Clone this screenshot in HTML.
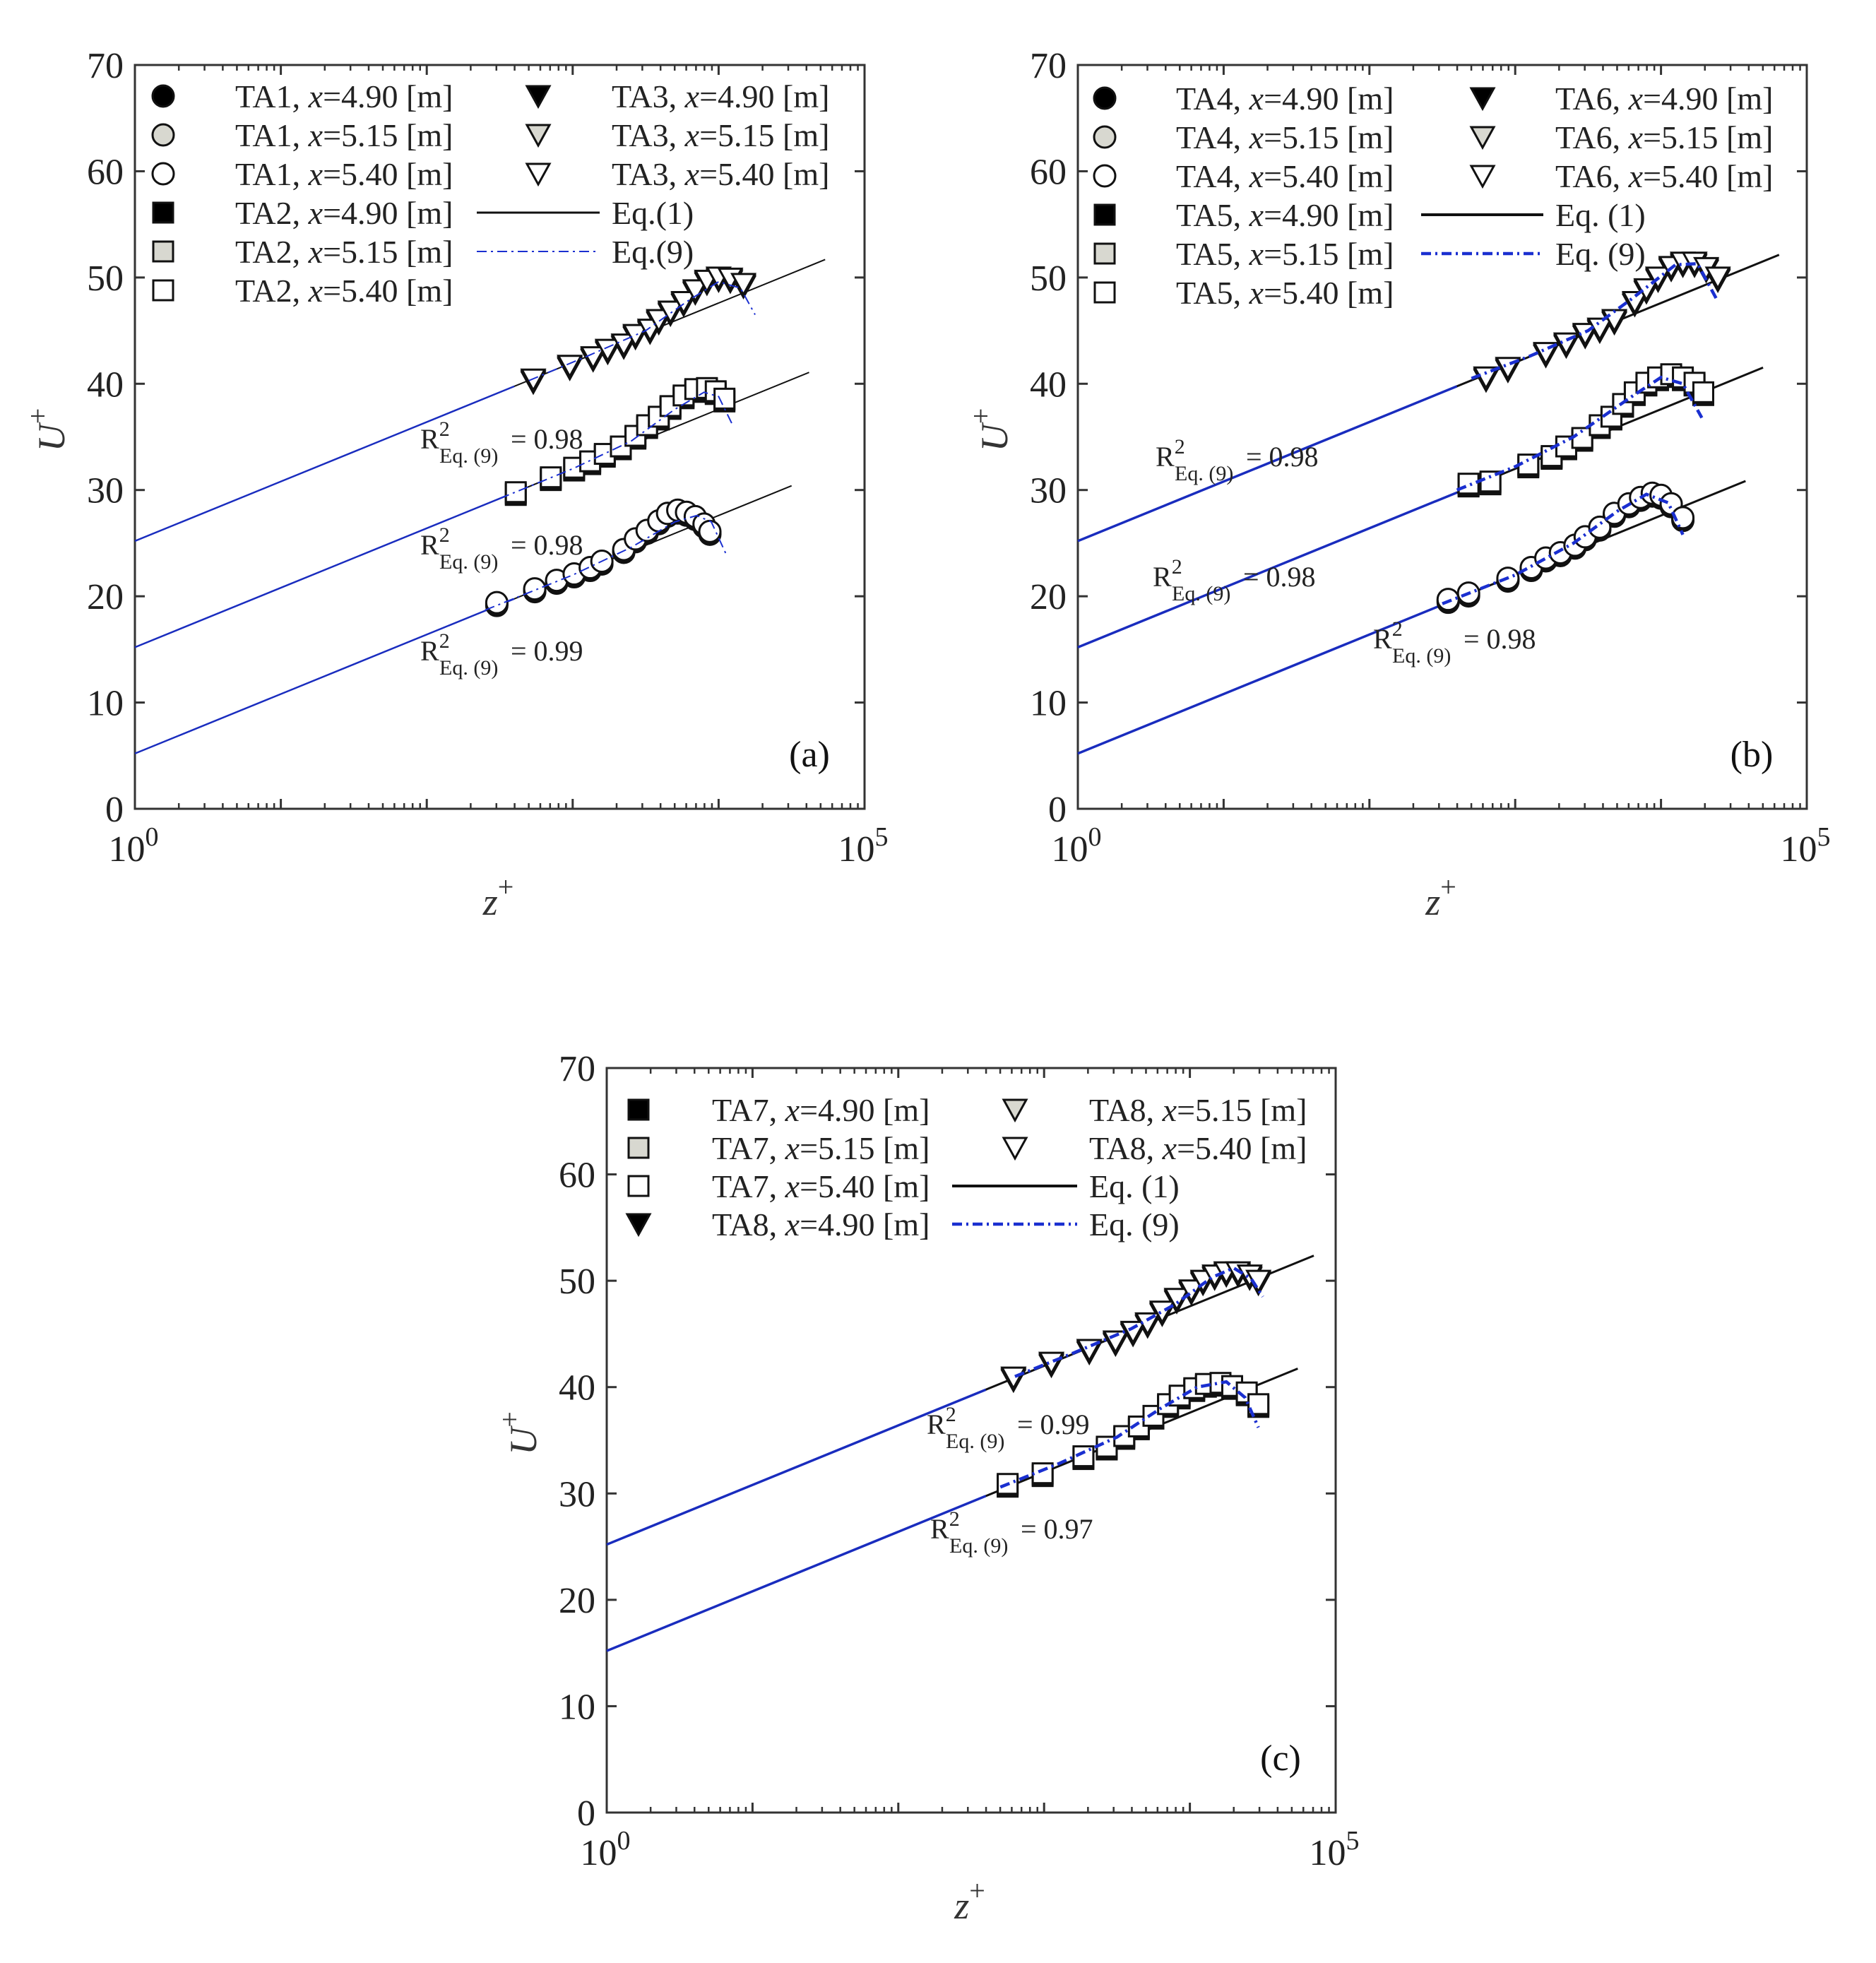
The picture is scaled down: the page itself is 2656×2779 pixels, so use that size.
<!DOCTYPE html>
<html><head><meta charset="utf-8"><style>
html,body{margin:0;padding:0;background:#fff;}
svg{display:block;font-family:"Liberation Serif","Times New Roman",serif;}
</style></head><body>
<svg id="fig" width="2656" height="2779" viewBox="0 0 2656 2779" xmlns="http://www.w3.org/2000/svg"></svg>
<script>
// ---- data (log10 z+, U+) ----
const yTicks = [0,10,20,30,40,50,60,70];
const xDecades = [0,1,2,3,4,5];
const lawIntercepts = [5.2,15.2,25.2];
const lawEnds = [4.50,4.62,4.73];
const lawSlope = 5.6;
// panel a
const aCircLog = [2.48,2.74,2.89,3.01,3.12,3.20,3.35,3.43,3.51,3.59,3.65,3.72,3.78,3.84,3.90,3.94];
const aCircU   = [19.4,20.7,21.5,22.1,22.7,23.3,24.4,25.4,26.2,27.1,27.8,28.1,27.9,27.5,26.8,26.1];
const aSqLog = [2.61,2.85,3.01,3.12,3.22,3.33,3.43,3.51,3.59,3.67,3.76,3.84,3.92,3.98,4.04];
const aSqU   = [29.8,31.2,32.1,32.7,33.4,34.1,35.1,36.1,36.9,37.9,38.9,39.5,39.6,39.3,38.6];
const aTriLog = [2.73,2.98,3.14,3.24,3.35,3.43,3.53,3.59,3.67,3.76,3.84,3.92,4.00,4.08,4.17];
const aTriU   = [40.4,41.7,42.5,43.2,43.7,44.6,45.1,46.0,46.8,47.7,48.8,49.7,50.0,49.9,49.4];
const aEq9CLog = [2.4,3.0,3.4,3.7,3.85,3.95,4.05]; const aEq9CU = [18.7,22.0,24.6,27.0,27.6,27.0,24.0];
const aEq9SLog = [2.5,3.0,3.4,3.7,3.9,4.0,4.1];   const aEq9SU = [29.2,32.0,34.6,37.6,39.2,38.8,36.0];
const aEq9TLog = [2.7,3.1,3.5,3.8,4.0,4.15,4.25]; const aEq9TU = [40.3,42.6,45.0,47.9,49.6,49.0,46.5];
// panel b
const bCircLog = [2.54,2.68,2.95,3.11,3.21,3.31,3.41,3.48,3.58,3.68,3.78,3.86,3.94,4.00,4.07,4.15];
const bCircU   = [19.7,20.3,21.7,22.7,23.6,24.1,24.8,25.6,26.5,27.8,28.7,29.3,29.7,29.5,28.7,27.4];
const bSqLog = [2.68,2.83,3.09,3.25,3.35,3.46,3.58,3.66,3.74,3.82,3.90,3.98,4.07,4.15,4.23,4.29];
const bSqU   = [30.6,30.8,32.4,33.2,34.1,34.9,36.1,36.9,38.1,39.2,40.1,40.6,40.9,40.6,40.1,39.2];
const bTriLog = [2.80,2.95,3.21,3.35,3.48,3.58,3.68,3.82,3.90,3.98,4.07,4.15,4.23,4.31,4.39];
const bTriU   = [40.6,41.5,42.9,43.8,44.7,45.2,46.0,47.7,48.9,50.0,51.0,51.4,51.4,50.9,50.0];
const bEq9CLog = [2.5,3.0,3.4,3.7,3.9,4.05,4.15]; const bEq9CU = [19.3,22.0,25.0,28.0,29.6,28.8,25.8];
const bEq9SLog = [2.6,3.0,3.4,3.8,4.0,4.15,4.28]; const bEq9SU = [30.0,32.2,35.0,38.8,40.6,40.0,36.8];
const bEq9TLog = [2.7,3.1,3.5,3.8,4.1,4.25,4.38]; const bEq9TU = [40.5,42.6,45.0,48.0,51.2,51.3,48.0];
// panel c
const cTriLog = [2.79,3.05,3.31,3.49,3.61,3.71,3.81,3.91,4.01,4.09,4.17,4.25,4.33,4.41,4.47];
const cTriU   = [40.9,42.3,43.5,44.3,45.2,46.0,47.1,48.3,49.1,50.0,50.5,50.8,50.8,50.5,50.0];
const cSqLog = [2.75,2.99,3.27,3.43,3.55,3.65,3.75,3.85,3.93,4.03,4.11,4.21,4.29,4.39,4.47];
const cSqU   = [30.9,31.9,33.5,34.4,35.4,36.3,37.3,38.4,39.2,39.9,40.3,40.4,40.1,39.5,38.4];
const cEq9SLog = [2.7,3.1,3.5,3.8,4.05,4.25,4.38,4.47]; const cEq9SU = [30.6,32.8,35.3,38.0,40.0,40.5,39.0,36.2];
const cEq9TLog = [2.8,3.2,3.6,3.9,4.15,4.3,4.42,4.5];  const cEq9TU = [41.0,43.2,45.5,47.8,50.3,51.2,50.2,48.5];

const NS='http://www.w3.org/2000/svg';
const svg=document.getElementById('fig');
function mk(tag,attrs,parent){const e=document.createElementNS(NS,tag);for(const k in attrs)e.setAttribute(k,attrs[k]);(parent||svg).appendChild(e);return e;}

function panel(cfg){
  const g=mk('g',{});
  
  
  const L=cfg.x0,R=cfg.x1,T=cfg.y0,B=cfg.y1;
  const sx=v=>L+(v-0)/5*(R-L);
  const sy=u=>B-u/70*(B-T);
  yTicks.forEach(t=>{
    const y=sy(t);
    mk('line',{x1:L,x2:L+14,y1:y,y2:y,stroke:'#333','stroke-width':3},g);
    mk('line',{x1:R,x2:R-14,y1:y,y2:y,stroke:'#333','stroke-width':3},g);
    const tx=mk('text',{x:L-16,y:y+18,'font-size':52,'text-anchor':'end',fill:'#222'},g);
    tx.textContent=t;
    
    
  });
  xDecades.forEach(d=>{
    const x=sx(d);
    mk('line',{x1:x,x2:x,y1:B,y2:B-14,stroke:'#333','stroke-width':3},g);
    mk('line',{x1:x,x2:x,y1:T,y2:T+14,stroke:'#333','stroke-width':3},g);
    if(d<5){for(let m=2;m<=9;m++){const xm=sx(d+Math.log10(m));
      mk('line',{x1:xm,x2:xm,y1:B,y2:B-8,stroke:'#333','stroke-width':2.5},g);
      mk('line',{x1:xm,x2:xm,y1:T,y2:T+8,stroke:'#333','stroke-width':2.5},g);}}
    if(d===0||d===5){
      const tx=mk('text',{x:x-2,y:B+74,'font-size':52,'text-anchor':'middle',fill:'#222'},g);
      tx.innerHTML='10<tspan dy="-22" font-size="38">'+d+'</tspan>';
      
      
    }
  });
  mk('rect',{x:L,y:T,width:R-L,height:B-T,fill:'none',stroke:'#333','stroke-width':3},g);
  const yt=mk('text',{x:0,y:0,'font-size':54,'font-style':'italic','text-anchor':'middle',fill:'#333',transform:`translate(${L-100},${(T+B)/2-10}) rotate(-90)`},g);
  yt.innerHTML='U<tspan dy="-24" font-size="40" font-style="normal">+</tspan>';
  
  
  const xt=mk('text',{x:(L+R)/2-2,y:B+150,'font-size':54,'font-style':'italic','text-anchor':'middle',fill:'#333'},g);
  xt.innerHTML='z<tspan dy="-26" font-size="40" font-style="normal">+</tspan>';
  
  
  const pl=mk('text',{x:R-78,y:B-60,'font-size':52,'text-anchor':'middle',fill:'#111'},g);
  pl.textContent='('+cfg.id+')';
  
  
  cfg.laws.forEach(i=>{
    const b=lawIntercepts[i],e=lawEnds[i]+cfg.endShift;
    const ln=mk('line',{x1:sx(0),y1:sy(b),x2:sx(e),y2:sy(b+lawSlope*e),stroke:'#111','stroke-width':cfg.lw},g);
    
    
    const bl=mk('line',{x1:sx(0),y1:sy(b),x2:sx(2.6),y2:sy(b+lawSlope*2.6),stroke:'#1a2fd0','stroke-width':cfg.lw+0.5,opacity:0.9},g);
    
    
  });
  function marker(type,fill,cx,cy,par){
    let e;
    if(type==='c') e=mk('circle',{cx:cx,cy:cy,r:15,fill:fill,stroke:'#111','stroke-width':3},par);
    else if(type==='s') e=mk('rect',{x:cx-14,y:cy-14,width:28,height:28,fill:fill,stroke:'#111','stroke-width':3},par);
    else e=mk('polygon',{points:`${cx-16},${cy-14} ${cx+16},${cy-14} ${cx},${cy+15}`,fill:fill,stroke:'#111','stroke-width':3},par);
    return e;
  }
  cfg.series.forEach(s=>{
    [['#000',4],['#d8d8d0',2],['#fff',0]].forEach(([f,off])=>{
      for(let i=0;i<s.lg.length;i++){
        const m=marker(s.t,f,sx(s.lg[i]),sy(s.u[i])+off,g);
        
        
      }
    });
  });
  cfg.eq9.forEach(c=>{
    const pts=c.lg.map((v,i)=>sx(v)+','+sy(c.u[i])).join(' ');
    const p=mk('polyline',{points:pts,fill:'none',stroke:'#1a2fd0','stroke-width':cfg.dlw,'stroke-dasharray':'14,6,3,6'},g);
    
    
  });
  cfg.r2.forEach(r=>{
    const t=mk('text',{x:r[0],y:r[1],'font-size':40,fill:'#222'},g);
    t.innerHTML=`R<tspan dy="-18" font-size="30">2</tspan><tspan x="${r[0]+27}" dy="38" font-size="30">Eq. (9)</tspan><tspan x="${r[0]+128}" dy="-20">= ${r[2]}</tspan>`;
    
    
  });
  cfg.legend.forEach(it=>{
    const [col,row,kind,fill,label]=it;
    const y=cfg.legY0+row*cfg.legDy;
    const mx=col===0?cfg.legM0:cfg.legM1, tx=col===0?cfg.legT0:cfg.legT1;
    if(kind==='l1'){const l=mk('line',{x1:cfg.legL0,x2:cfg.legL1,y1:y,y2:y,stroke:'#111','stroke-width':cfg.lw+1},g);}
    else if(kind==='l9'){const l=mk('line',{x1:cfg.legL0,x2:cfg.legL1,y1:y,y2:y,stroke:'#1a2fd0','stroke-width':cfg.dlw,'stroke-dasharray':'14,6,3,6'},g);}
    else {const m=marker(kind,fill,mx,y,g);}
    const t=mk('text',{x:tx,y:y+16,'font-size':46,fill:'#222'},g);
    t.innerHTML=label.replace('x=','<tspan font-style="italic">x</tspan>=');
    
    
  });
}

panel({id:'a',x0:191,x1:1224,y0:92,y1:1145,laws:[0,1,2],endShift:0,lw:2,dlw:2,
  series:[{t:'c',name:'ta1',lg:aCircLog,u:aCircU},{t:'s',name:'ta2',lg:aSqLog,u:aSqU},{t:'t',name:'ta3',lg:aTriLog,u:aTriU}],
  eq9:[{lg:aEq9CLog,u:aEq9CU},{lg:aEq9SLog,u:aEq9SU},{lg:aEq9TLog,u:aEq9TU}],
  r2:[[595,635,'0.98'],[595,785,'0.98'],[595,935,'0.99']],
  legY0:136,legDy:55,legM0:231,legT0:333,legM1:762,legT1:866,legL0:675,legL1:849,
  legend:[[0,0,'c','#000','TA1, x=4.90 [m]'],[0,1,'c','#d8d8d0','TA1, x=5.15 [m]'],[0,2,'c','#fff','TA1, x=5.40 [m]'],
    [0,3,'s','#000','TA2, x=4.90 [m]'],[0,4,'s','#d8d8d0','TA2, x=5.15 [m]'],[0,5,'s','#fff','TA2, x=5.40 [m]'],
    [1,0,'t','#000','TA3, x=4.90 [m]'],[1,1,'t','#d8d8d0','TA3, x=5.15 [m]'],[1,2,'t','#fff','TA3, x=5.40 [m]'],
    [1,3,'l1','','Eq.(1)'],[1,4,'l9','','Eq.(9)']]});

panel({id:'b',x0:1526,x1:2558,y0:92,y1:1145,laws:[0,1,2],endShift:0.08,lw:3,dlw:4.5,
  series:[{t:'c',name:'ta4',lg:bCircLog,u:bCircU},{t:'s',name:'ta5',lg:bSqLog,u:bSqU},{t:'t',name:'ta6',lg:bTriLog,u:bTriU}],
  eq9:[{lg:bEq9CLog,u:bEq9CU},{lg:bEq9SLog,u:bEq9SU},{lg:bEq9TLog,u:bEq9TU}],
  r2:[[1636,660,'0.98'],[1632,830,'0.98'],[1944,918,'0.98']],
  legY0:139,legDy:55,legM0:1564,legT0:1665,legM1:2099,legT1:2202,legL0:2012,legL1:2185,
  legend:[[0,0,'c','#000','TA4, x=4.90 [m]'],[0,1,'c','#d8d8d0','TA4, x=5.15 [m]'],[0,2,'c','#fff','TA4, x=5.40 [m]'],
    [0,3,'s','#000','TA5, x=4.90 [m]'],[0,4,'s','#d8d8d0','TA5, x=5.15 [m]'],[0,5,'s','#fff','TA5, x=5.40 [m]'],
    [1,0,'t','#000','TA6, x=4.90 [m]'],[1,1,'t','#d8d8d0','TA6, x=5.15 [m]'],[1,2,'t','#fff','TA6, x=5.40 [m]'],
    [1,3,'l1','','Eq. (1)'],[1,4,'l9','','Eq. (9)']]});

panel({id:'c',x0:859,x1:1891,y0:1512,y1:2566,laws:[1,2],endShift:0.12,lw:3,dlw:4.5,
  series:[{t:'s',name:'ta7',lg:cSqLog,u:cSqU},{t:'t',name:'ta8',lg:cTriLog,u:cTriU}],
  eq9:[{lg:cEq9SLog,u:cEq9SU},{lg:cEq9TLog,u:cEq9TU}],
  r2:[[1312,2030,'0.99'],[1317,2178,'0.97']],
  legY0:1571,legDy:54,legM0:904,legT0:1008,legM1:1437,legT1:1542,legL0:1348,legL1:1525,
  legend:[[0,0,'s','#000','TA7, x=4.90 [m]'],[0,1,'s','#d8d8d0','TA7, x=5.15 [m]'],[0,2,'s','#fff','TA7, x=5.40 [m]'],
    [0,3,'t','#000','TA8, x=4.90 [m]'],[1,0,'t','#d8d8d0','TA8, x=5.15 [m]'],[1,1,'t','#fff','TA8, x=5.40 [m]'],
    [1,2,'l1','','Eq. (1)'],[1,3,'l9','','Eq. (9)']]});
</script>
</body></html>
